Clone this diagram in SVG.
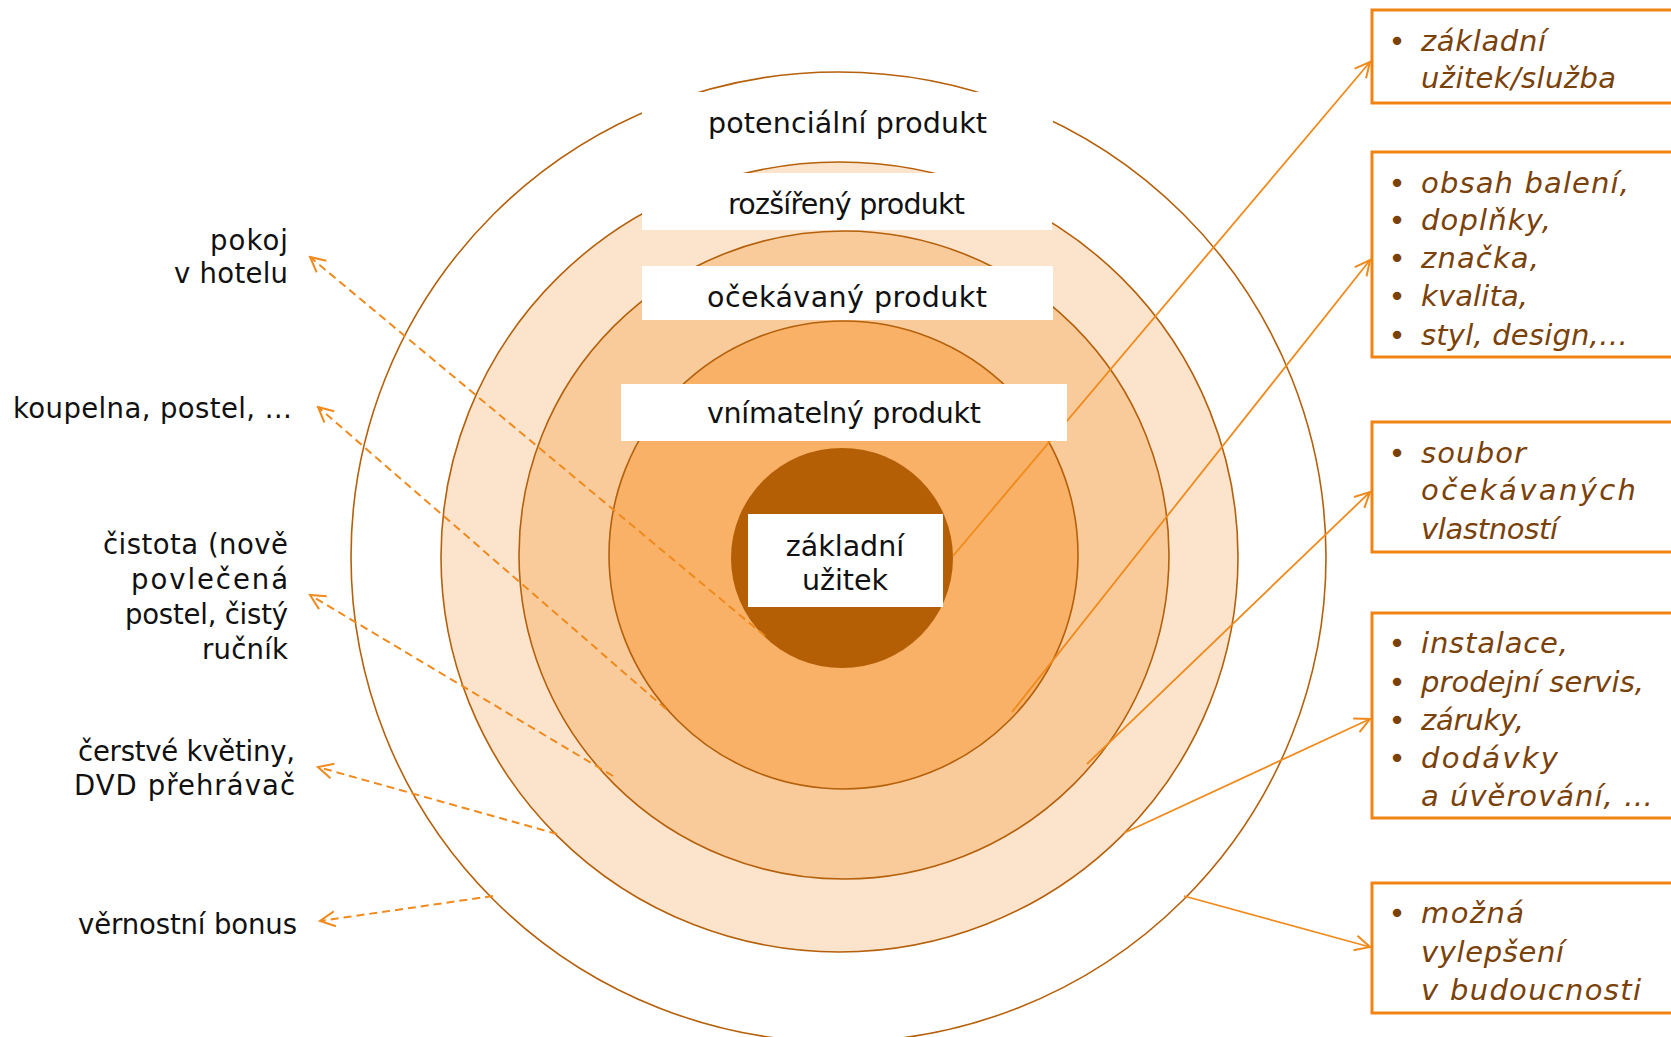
<svg xmlns="http://www.w3.org/2000/svg" width="1671" height="1037" viewBox="0 0 1671 1037">
<style>
.ring{stroke:#B5600B;stroke-width:1.6}
.lbox{fill:#FFFFFF;stroke:none}
.lbl{font-family:"DejaVu Sans","Liberation Sans",sans-serif;font-size:28.5px;fill:#111111;text-anchor:middle}
.side{font-family:"DejaVu Sans","Liberation Sans",sans-serif;font-size:27.5px;fill:#111111;text-anchor:end}
.box{fill:#FFFFFF;stroke:#F08312;stroke-width:3}
.btx{font-family:"DejaVu Sans","Liberation Sans",sans-serif;font-size:29px;font-style:italic;fill:#7A4109}
.bul{font-family:"DejaVu Sans","Liberation Sans",sans-serif;font-size:29px;fill:#7A4109;text-anchor:middle}
.solid{fill:none;stroke:#F08A1C;stroke-width:1.8;marker-end:url(#arr)}
.dash{fill:none;stroke:#F08A1C;stroke-width:2;stroke-dasharray:8 5;marker-end:url(#arr)}
</style>
<defs>
<marker id="arr" viewBox="0 0 18 18" refX="16" refY="9" markerWidth="18" markerHeight="18" markerUnits="userSpaceOnUse" orient="auto">
<path d="M1,1.5 L16,9 L1,16.5" fill="none" stroke="#F08A1C" stroke-width="2"/>
</marker>
</defs>
<rect width="1671" height="1037" fill="#FFFFFF"/>

<g id="rings">
<ellipse id="ring-potencialni" class="ring" cx="838.5" cy="557" rx="487.5" ry="485" fill="#FFFFFF"/>
<ellipse id="ring-rozsireny" class="ring" cx="839.5" cy="557" rx="398.5" ry="395" fill="#FCE4CC"/>
<ellipse id="ring-ocekavany" class="ring" cx="844" cy="555" rx="325" ry="324" fill="#F9CB9B"/>
<ellipse id="ring-vnimatelny" class="ring" cx="843.5" cy="555" rx="234.5" ry="234" fill="#F8B166"/>
<ellipse id="ring-zakladni" cx="842" cy="558" rx="111" ry="110" fill="#B45F06"/>
</g>

<g id="connectors">
<line class="solid" x1="953" y1="556" x2="1370" y2="62"/>
<line class="solid" x1="1012" y1="712" x2="1370" y2="260"/>
<line class="solid" x1="1087" y1="764" x2="1370" y2="492"/>
<line class="solid" x1="1124" y1="833" x2="1370" y2="719"/>
<line class="solid" x1="1184" y1="896" x2="1370" y2="947"/>
<line class="dash" x1="765" y1="636" x2="310" y2="257"/>
<line class="dash" x1="666" y1="709" x2="318" y2="407"/>
<line class="dash" x1="613" y1="776" x2="310" y2="595"/>
<line class="dash" x1="557" y1="834" x2="318" y2="767"/>
<line class="dash" x1="493" y1="896" x2="320" y2="921"/>
</g>

<g id="node-potencialni">
<rect class="lbox" x="642" y="92" width="411" height="66"/>
<text class="lbl" x="847.5" y="133" textLength="279">potenciální produkt</text>
</g>
<g id="node-rozsireny">
<rect class="lbox" x="642" y="173" width="410" height="57"/>
<text class="lbl" x="846.5" y="214" textLength="237">rozšířený produkt</text>
</g>
<g id="node-ocekavany">
<rect class="lbox" x="642" y="266" width="411" height="54"/>
<text class="lbl" x="847" y="307" textLength="280">očekávaný produkt</text>
</g>
<g id="node-vnimatelny">
<rect class="lbox" x="621" y="384" width="446" height="57"/>
<text class="lbl" x="844" y="423" textLength="274">vnímatelný produkt</text>
</g>
<g id="node-zakladni">
<rect class="lbox" x="748" y="514" width="195" height="93"/>
<text class="lbl" x="845" y="556">základní</text>
<text class="lbl" x="845" y="590">užitek</text>
</g>

<g id="node-pokoj">
<text class="side" x="288" y="250" textLength="78">pokoj</text>
<text class="side" x="288" y="283" textLength="114">v hotelu</text>
</g>
<g id="node-koupelna">
<text class="side" x="292" y="418" textLength="279">koupelna, postel, …</text>
</g>
<g id="node-cistota">
<text class="side" x="288" y="554" textLength="185">čistota (nově</text>
<text class="side" x="288" y="589" textLength="157">povlečená</text>
<text class="side" x="288" y="624" textLength="163">postel, čistý</text>
<text class="side" x="288" y="659" textLength="86">ručník</text>
</g>
<g id="node-kvetiny">
<text class="side" x="295" y="761" textLength="217">čerstvé květiny,</text>
<text class="side" x="295" y="795" textLength="221">DVD přehrávač</text>
</g>
<g id="node-bonus">
<text class="side" x="297" y="934" textLength="219">věrnostní bonus</text>
</g>

<g id="node-box1">
<rect class="box" x="1372" y="10" width="310" height="93"/>
<text class="bul" x="1397" y="51">•</text>
<text class="btx" x="1421" y="51" textLength="125">základní</text>
<text class="btx" x="1421" y="88" textLength="195">užitek/služba</text>
</g>
<g id="node-box2">
<rect class="box" x="1372" y="152" width="310" height="205"/>
<text class="bul" x="1397" y="193">•</text>
<text class="btx" x="1421" y="193" textLength="208">obsah balení,</text>
<text class="bul" x="1397" y="230">•</text>
<text class="btx" x="1421" y="230" textLength="130">doplňky,</text>
<text class="bul" x="1397" y="268">•</text>
<text class="btx" x="1421" y="268" textLength="118">značka,</text>
<text class="bul" x="1397" y="306">•</text>
<text class="btx" x="1421" y="306" textLength="107">kvalita,</text>
<text class="bul" x="1397" y="345">•</text>
<text class="btx" x="1421" y="345" textLength="207">styl, design,…</text>
</g>
<g id="node-box3">
<rect class="box" x="1372" y="422" width="310" height="130"/>
<text class="bul" x="1397" y="463">•</text>
<text class="btx" x="1421" y="463" textLength="105">soubor</text>
<text class="btx" x="1421" y="500" textLength="215">očekávaných</text>
<text class="btx" x="1421" y="539" textLength="137">vlastností</text>
</g>
<g id="node-box4">
<rect class="box" x="1372" y="613" width="310" height="205"/>
<text class="bul" x="1397" y="653">•</text>
<text class="btx" x="1421" y="653" textLength="147">instalace,</text>
<text class="bul" x="1397" y="692">•</text>
<text class="btx" x="1421" y="692" textLength="223">prodejní servis,</text>
<text class="bul" x="1397" y="730">•</text>
<text class="btx" x="1421" y="730" textLength="103">záruky,</text>
<text class="bul" x="1397" y="768">•</text>
<text class="btx" x="1421" y="768" textLength="137">dodávky</text>
<text class="btx" x="1421" y="806" textLength="232">a úvěrování, …</text>
</g>
<g id="node-box5">
<rect class="box" x="1372" y="883" width="310" height="130"/>
<text class="bul" x="1397" y="923">•</text>
<text class="btx" x="1421" y="923" textLength="103">možná</text>
<text class="btx" x="1421" y="962" textLength="143">vylepšení</text>
<text class="btx" x="1421" y="1000" textLength="220">v budoucnosti</text>
</g>
</svg>
